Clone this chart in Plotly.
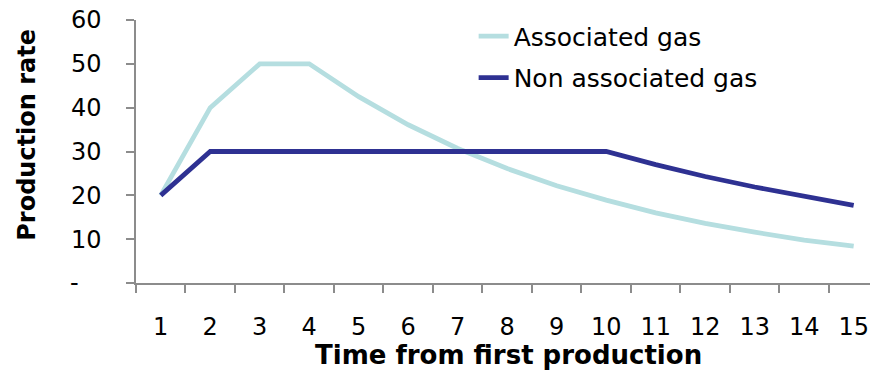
import plotly.graph_objects as go

# Years since first production
years = [str(i) for i in range(1, 16)]

# Production rate profiles
associated_gas = [20, 40, 50, 50, 42.5, 36.1, 30.7, 26.1, 22.2, 18.9, 16.0, 13.6, 11.6, 9.8, 8.4]
non_associated_gas = [20, 30, 30, 30, 30, 30, 30, 30, 30, 30, 27.0, 24.3, 21.9, 19.7, 17.7]

y_ticks = [0, 10, 20, 30, 40, 50, 60]
y_tick_text = ["-\u00a0\u00a0\u00a0", "10", "20", "30", "40", "50", "60"]

FONT = "DejaVu Sans"
AXIS_GREY = "#8c8c8c"

fig = go.Figure()
fig.add_trace(go.Scatter(
    x=years, y=associated_gas, mode="lines", name="Associated gas",
    line=dict(color="#b5dee0", width=4.8), legendgroup="a",
))
fig.add_trace(go.Scatter(
    x=years, y=non_associated_gas, mode="lines", name="Non associated gas",
    line=dict(color="#2e3192", width=4.8), legendgroup="b",
))

fig.update_layout(
    width=870, height=370,
    margin=dict(l=136, r=0, t=20, b=87),
    paper_bgcolor="white", plot_bgcolor="white",
    font=dict(family=FONT, color="black"),
    showlegend=True,
    legend=dict(
        x=0.46, y=1.025, xanchor="left", yanchor="top",
        font=dict(family=FONT, size=25, color="black"),
        bgcolor="rgba(0,0,0,0)", traceorder="grouped", tracegroupgap=6,
    ),
    xaxis=dict(
        type="category", range=[-0.5, 14.33],
        showline=True, linecolor=AXIS_GREY, linewidth=1.5,
        ticks="outside", tickson="boundaries", ticklen=8, tickwidth=1.5,
        tickcolor=AXIS_GREY, ticklabelstandoff=21,
        tickfont=dict(family=FONT, size=24, color="black"),
        showgrid=False, zeroline=False,
    ),
    yaxis=dict(
        range=[0, 60], tickvals=y_ticks, ticktext=y_tick_text,
        showline=True, linecolor=AXIS_GREY, linewidth=1.5,
        ticks="outside", ticklen=8, tickwidth=1.5, tickcolor=AXIS_GREY,
        ticklabelstandoff=20,
        tickfont=dict(family=FONT, size=24, color="black"),
        showgrid=False, zeroline=False,
    ),
    annotations=[
        dict(text="<b>Time from first production</b>", xref="paper", yref="paper",
             x=0.508, y=-0.274, xanchor="center", yanchor="middle", showarrow=False,
             font=dict(family=FONT, size=26, color="black")),
        dict(text="<b>Production rate</b>", xref="paper", yref="paper",
             x=-0.148, y=0.565, xanchor="center", yanchor="middle", showarrow=False,
             textangle=-90, font=dict(family=FONT, size=24, color="black")),
    ],
)

fig.write_html("out.html")
